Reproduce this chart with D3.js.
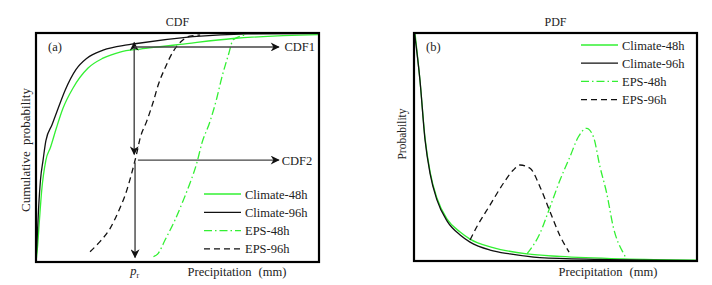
<!DOCTYPE html>
<html>
<head>
<meta charset="utf-8">
<script src="https://cdn.jsdelivr.net/npm/d3@7"></script>
<style>
    body { margin: 0; background: #fff; }
    svg text { font-family: "Liberation Serif", "DejaVu Serif", serif; fill: #222; }
</style>
</head>
<body>
<div id="chart"></div>
<script>
// Series. x is precipitation on a 0-100 scale, y is probability.
const cdfClimate48 = [[0, 0], [0.5, 0.06], [1.2, 0.18], [2.0, 0.31], [3.5, 0.445], [5.1, 0.50], [7.2, 0.585],
    [9.5, 0.67], [13.1, 0.76], [18.4, 0.847], [23.7, 0.89], [29.7, 0.917], [36.8, 0.93], [43.8, 0.94],
    [50.9, 0.95], [69.6, 0.976], [100, 0.993]];
const cdfClimate96 = [[0, 0], [0.4, 0.10], [0.9, 0.23], [1.6, 0.36], [2.5, 0.445], [3.5, 0.53], [5.7, 0.60],
    [7.8, 0.67], [10.3, 0.75], [14.1, 0.84], [18.0, 0.89], [23.7, 0.925], [32.2, 0.948], [34.3, 0.952],
    [74.6, 0.996], [100, 0.998]];
const cdfEps48 = [[41.5, 0.023], [43.2, 0.038], [45.6, 0.096], [49.1, 0.183], [52.1, 0.271], [54.4, 0.344],
    [56.8, 0.431], [58.6, 0.518], [61.5, 0.614], [63.9, 0.716], [65.6, 0.803], [68.0, 0.905], [69.7, 0.971],
    [74.5, 0.993]];
const cdfEps96 = [[19.1, 0.045], [22.6, 0.089], [26.2, 0.147], [29.1, 0.22], [32.1, 0.314], [33.8, 0.387],
    [35.6, 0.475], [36.8, 0.541], [39.1, 0.614], [41.5, 0.702], [43.2, 0.774], [45.6, 0.847], [48.5, 0.92],
    [50.2, 0.949], [54.4, 0.986], [58.0, 0.991]];

const pdfClimate48 = [[0.35, 1.0], [2.1, 0.794], [3.9, 0.539], [5.7, 0.39], [8.1, 0.276], [11.7, 0.184],
    [16.3, 0.127], [19.8, 0.096], [27.9, 0.059], [39.9, 0.031], [51.6, 0.02], [73.9, 0.009], [100, 0.004]];
const pdfClimate96 = [[0.18, 1.0], [2.1, 0.794], [3.9, 0.531], [5.7, 0.382], [8.1, 0.268], [11.7, 0.175],
    [16.3, 0.114], [19.8, 0.083], [26.9, 0.048], [33.9, 0.031], [44.5, 0.015], [65.7, 0.007], [100, 0.002]];
const pdfEps48 = [[39.9, 0.031], [44.5, 0.121], [48.1, 0.238], [51.6, 0.355], [55.1, 0.457], [58.1, 0.545],
    [61.0, 0.582], [63.4, 0.545], [65.7, 0.414], [68.1, 0.297], [70.4, 0.15], [74.0, 0.034], [75.2, 0.009]];
const pdfEps96 = [[19.8, 0.092], [22.2, 0.15], [26.9, 0.246], [31.6, 0.341], [35.1, 0.399], [37.5, 0.421],
    [41.0, 0.407], [44.5, 0.326], [48.1, 0.215], [51.6, 0.11], [54.8, 0.039]];

// Annotation values for panel (a).
const prValue = 34.7;
const cdf1Level = 0.939;
const cdf2Level = 0.445;

const seriesNames = ["Climate-48h", "Climate-96h", "EPS-48h", "EPS-96h"];
const panelTitles = ["CDF", "PDF"];
const panelTags = ["(a)", "(b)"];

const green = "#33f033";
const styles = [
    { color: green, dash: null },
    { color: "#111", dash: null },
    { color: green, dash: "8,3,1.5,3" },
    { color: "#111", dash: "6,4" }
];

const svg = d3.select("#chart").append("svg")
    .attr("width", 712)
    .attr("height", 285);

const defs = svg.append("defs");
defs.append("marker")
    .attr("id", "head")
    .attr("viewBox", "0 0 10 10")
    .attr("refX", 9)
    .attr("refY", 5)
    .attr("markerUnits", "userSpaceOnUse")
    .attr("markerWidth", 11)
    .attr("markerHeight", 9)
    .attr("orient", "auto-start-reverse")
    .append("path")
    .attr("d", "M0,0 L10,5 L0,10 L3,5 Z")
    .attr("fill", "#111");

// Build one framed panel and return its scales and group.
const makePanel = (id, box, idx, yLabel, yLabelSize) => {
    const x = d3.scaleLinear().domain([0, 100]).range([box.left, box.left + box.width]);
    const y = d3.scaleLinear().domain([0, 1]).range([box.top + box.height, box.top]);

    defs.append("clipPath").attr("id", "clip-" + id)
        .append("rect")
        .attr("x", box.left).attr("y", box.top)
        .attr("width", box.width).attr("height", box.height);

    const g = svg.append("g");
    const plot = g.append("g").attr("clip-path", `url(#clip-${id})`);

    g.append("text")
        .attr("x", box.left + box.width / 2)
        .attr("y", 26)
        .attr("text-anchor", "middle")
        .style("font-size", "12px")
        .text(panelTitles[idx]);

    g.append("text")
        .attr("x", box.left + 12)
        .attr("y", box.top + 18)
        .style("font-size", "12.5px")
        .text(panelTags[idx]);

    g.append("text")
        .attr("transform", `translate(${box.yLabelX}, ${box.yLabelY}) rotate(-90)`)
        .attr("text-anchor", "middle")
        .style("font-size", yLabelSize)
        .style("word-spacing", "3px")
        .text(yLabel);

    g.append("text")
        .attr("x", box.xLabelX)
        .attr("y", 276)
        .attr("text-anchor", "middle")
        .style("font-size", "12.5px")
        .style("word-spacing", "4px")
        .text("Precipitation (mm)");

    return { x, y, g, plot, box };
};

const drawSeries = (panel, series) => {
    const line = d3.line()
        .x(d => panel.x(d[0]))
        .y(d => panel.y(d[1]))
        .curve(d3.curveMonotoneX);

    series.forEach((data, i) => {
        panel.plot.append("path")
            .attr("d", line(data))
            .attr("fill", "none")
            .attr("stroke", styles[i].color)
            .attr("stroke-width", 1.3)
            .attr("stroke-dasharray", styles[i].dash);
    });
};

const drawFrame = (panel) => {
    const b = panel.box;
    panel.g.append("rect")
        .attr("x", b.left).attr("y", b.top)
        .attr("width", b.width).attr("height", b.height)
        .attr("fill", "none")
        .attr("stroke", "#000")
        .attr("stroke-width", 2.2);
};

const drawLegend = (panel, lx, ly, rowGap) => {
    seriesNames.forEach((name, i) => {
        const yy = ly + i * rowGap;
        panel.g.append("line")
            .attr("x1", lx).attr("x2", lx + 37)
            .attr("y1", yy).attr("y2", yy)
            .attr("stroke", styles[i].color)
            .attr("stroke-width", 1.3)
            .attr("stroke-dasharray", styles[i].dash);
        panel.g.append("text")
            .attr("x", lx + 41)
            .attr("y", yy + 4.5)
            .style("font-size", "12.5px")
            .text(name);
    });
};

// Panel (a): cumulative distributions.
const a = makePanel("a",
    { left: 36, top: 33, width: 283, height: 229, yLabelX: 30, yLabelY: 150, xLabelX: 237 },
    0, "Cumulative probability", "13px");
drawSeries(a, [cdfClimate48, cdfClimate96, cdfEps48, cdfEps96]);
drawLegend(a, 204, 194, 18.3);

// Arrows that read p_r off the two CDFs.
const arrow = (x1, y1, x2, y2, both) => {
    const l = a.g.append("line")
        .attr("x1", a.x(x1)).attr("y1", a.y(y1))
        .attr("x2", a.x(x2)).attr("y2", a.y(y2))
        .attr("stroke", "#444")
        .attr("stroke-width", 1.4)
        .attr("marker-end", "url(#head)");
    if (both) l.attr("marker-start", "url(#head)");
};
arrow(prValue, cdf2Level + 0.025, prValue, 0.958, true);
arrow(prValue, cdf1Level, 85.8, cdf1Level, false);
arrow(prValue + 1.3, cdf2Level, 85.8, cdf2Level, false);
arrow(prValue + 0.3, cdf2Level - 0.01, prValue + 0.3, 0.02, false);

a.g.append("text")
    .attr("x", a.x(87.8)).attr("y", a.y(cdf1Level) + 4.5)
    .style("font-size", "12.5px")
    .text("CDF1");
a.g.append("text")
    .attr("x", a.x(86.8)).attr("y", a.y(cdf2Level) + 4.5)
    .style("font-size", "12.5px")
    .text("CDF2");

const pr = a.g.append("text")
    .attr("x", a.x(prValue) - 4)
    .attr("y", 275)
    .style("font-size", "12.5px");
pr.append("tspan").style("font-style", "italic").text("p");
pr.append("tspan").attr("dy", 3).style("font-size", "8px").text("r");

drawFrame(a);

// Panel (b): probability densities.
const b = makePanel("b",
    { left: 414, top: 33, width: 283, height: 228, yLabelX: 406, yLabelY: 134, xLabelX: 608 },
    1, "Probability", "11.5px");
drawSeries(b, [pdfClimate48, pdfClimate96, pdfEps48, pdfEps96]);
drawLegend(b, 581, 45, 18.2);
drawFrame(b);
</script>
</body>
</html>
